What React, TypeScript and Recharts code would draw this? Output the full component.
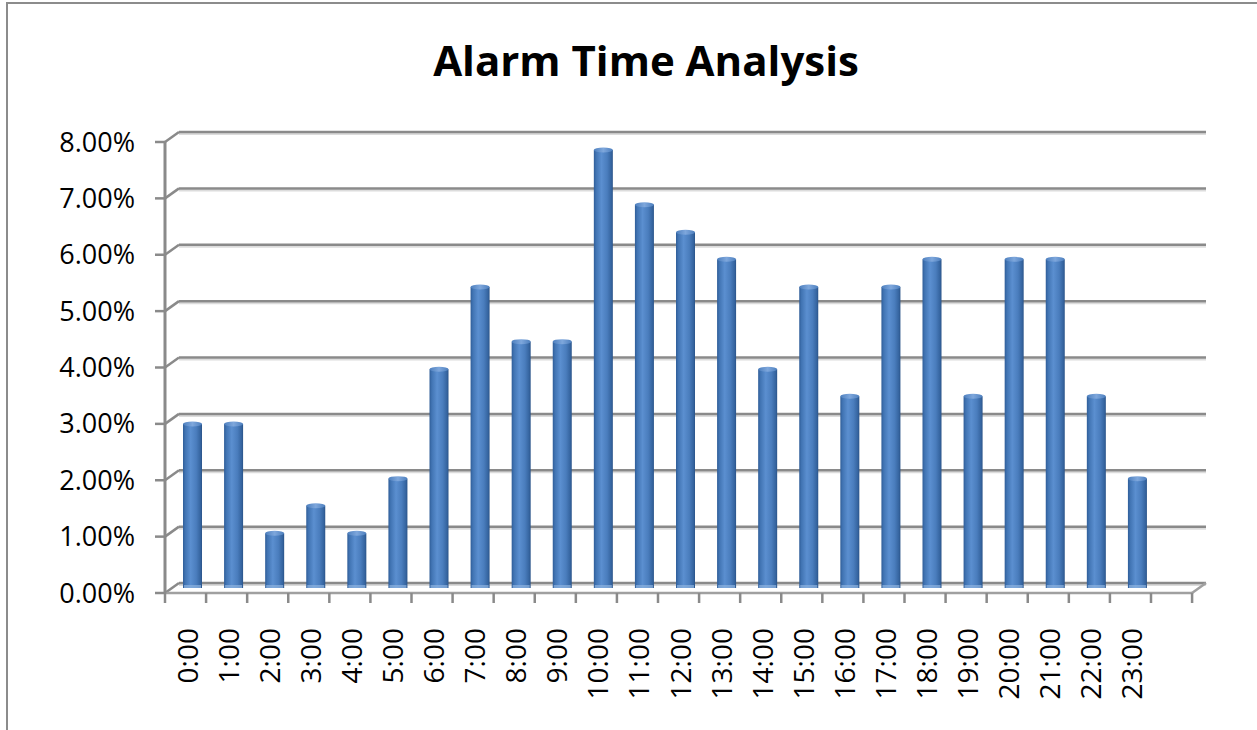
import React from 'react';
import { BarChart, Bar, XAxis, YAxis, CartesianGrid } from 'recharts';

const hours = ['0:00','1:00','2:00','3:00','4:00','5:00','6:00','7:00','8:00','9:00','10:00','11:00','12:00','13:00','14:00','15:00','16:00','17:00','18:00','19:00','20:00','21:00','22:00','23:00'];
const share = [2.91,2.91,0.97,1.46,0.97,1.94,3.88,5.34,4.37,4.37,7.77,6.80,6.31,5.83,3.88,5.34,3.40,5.34,5.83,3.40,5.83,5.83,3.40,1.94];
const yTicks = [0,1,2,3,4,5,6,7,8];
const title = 'Alarm Time Analysis';

const data = hours.map((h, i) => ({ hour: h, value: share[i] }));

const W = 1257;
const H = 730;
const DX = 14; // depth offset x
const DY = -10; // depth offset y
const FONT = '"Open Sans", "Liberation Sans", sans-serif';
const N = hours.length;
const PAD_R = 41;

const GridLine = (props: any) => {
  const { x1, x2, y1, index } = props;
  const y = y1;
  const isFloor = index === 0 || Math.abs(y - (H - 137)) < 1;
  return (
    <g key={`g-${y}`}>
      <line x1={x1 + DX} x2={x2 + DX} y1={y + DY + 2} y2={y + DY + 2} stroke="#dcdcdc" strokeWidth={2} />
      <line x1={x1 + DX} x2={x2 + DX} y1={y + DY} y2={y + DY} stroke="#8a8a8a" strokeWidth={2.5} />
      <line x1={x1} y1={y} x2={x1 + DX} y2={y + DY} stroke="#8a8a8a" strokeWidth={2.5} />
      {isFloor && (
        <line x1={x2} y1={y} x2={x2 + DX} y2={y + DY} stroke="#a0a0a0" strokeWidth={2.5} />
      )}
    </g>
  );
};

const CylinderBar = (props: any) => {
  const { x, y, width, height } = props;
  if (height == null || height <= 0) return null;
  const bx = x + DX / 2;
  const by = y + DY / 2;
  const ry = 2.5;
  return (
    <g>
      <rect x={bx} y={by} width={width} height={height} fill="url(#cyl)" />
      <ellipse cx={bx + width / 2} cy={by} rx={width / 2} ry={ry} fill="url(#cap)" />
      <rect x={bx + 1} y={by + height - 3} width={width - 2} height={3} fill="#8fb3e0" opacity={0.7} />
    </g>
  );
};

const XTick = (props: any) => {
  const { x, y, payload, index } = props;
  const slot = (W - 165 - 65 - PAD_R) / N;
  const top = y; // axis line y
  const labelY = top + 35;
  const isLast = index === N - 1;
  return (
    <g>
      <line x1={x - slot / 2} x2={x - slot / 2} y1={top} y2={top + 10} stroke="#8a8a8a" strokeWidth={2.5} />
      {isLast && (
        <>
          <line x1={x + slot / 2} x2={x + slot / 2} y1={top} y2={top + 10} stroke="#8a8a8a" strokeWidth={2.5} />
          <line x1={x + slot * 1.5} x2={x + slot * 1.5} y1={top} y2={top + 10} stroke="#8a8a8a" strokeWidth={2.5} />
        </>
      )}
      <text
        x={x + 1}
        y={labelY}
        transform={`rotate(-90, ${x + 1}, ${labelY})`}
        textAnchor="end"
        dominantBaseline="central"
        fontFamily={FONT}
        fontSize={28}
        fill="#000"
      >
        {payload.value}
      </text>
    </g>
  );
};

export default function App() {
  return (
    <div style={{ position: 'absolute', left: 0, top: 0, width: W, height: H, overflow: 'hidden', background: '#fff' }}>
      <div style={{ position: 'absolute', left: 6, top: 2, width: 1400, height: 900, border: '2px solid #8c8c8c' }} />
      <svg style={{ position: 'absolute', left: 0, top: 0 }} width={W} height={H}>
        <text x={646} y={76} textAnchor="middle" fontFamily={FONT} fontWeight={700} fontSize={42} fill="#000">
          {title}
        </text>
      </svg>
      <div style={{ position: 'absolute', left: 0, top: 0 }}>
        <BarChart width={W} height={H} data={data} margin={{ top: 142, right: 65, left: 0, bottom: 0 }}>
          <defs>
            <linearGradient id="cyl" x1="0" y1="0" x2="1" y2="0">
              <stop offset="0%" stopColor="#2f5d98" />
              <stop offset="12%" stopColor="#4174b3" />
              <stop offset="40%" stopColor="#5b8fd0" />
              <stop offset="70%" stopColor="#4a7dbd" />
              <stop offset="92%" stopColor="#35649f" />
              <stop offset="100%" stopColor="#2a5388" />
            </linearGradient>
            <linearGradient id="cap" x1="0" y1="0" x2="1" y2="0">
              <stop offset="0%" stopColor="#4d7fbe" />
              <stop offset="50%" stopColor="#7ea7dc" />
              <stop offset="100%" stopColor="#4d7fbe" />
            </linearGradient>
          </defs>
          <CartesianGrid vertical={false} horizontal={GridLine} />
          <XAxis
            dataKey="hour"
            type="category"
            height={137}
            padding={{ left: 0, right: PAD_R }}
            interval={0}
            tickLine={false}
            tickSize={0}
            tickMargin={0}
            axisLine={{ stroke: '#a0a0a0', strokeWidth: 2.5 }}
            tick={XTick}
          />
          <YAxis
            type="number"
            domain={[0, 8]}
            ticks={yTicks}
            interval={0}
            width={165}
            tickSize={10}
            tickMargin={20}
            axisLine={{ stroke: '#8a8a8a', strokeWidth: 3 }}
            tickLine={{ stroke: '#8a8a8a', strokeWidth: 2.5 }}
            tickFormatter={(v: number) => `${v.toFixed(2)}%`}
            tick={{ fontFamily: FONT, fontSize: 27, fill: '#000' }}
          />
          <Bar dataKey="value" barSize={19} isAnimationActive={false} shape={CylinderBar} />
        </BarChart>
      </div>
    </div>
  );
}
